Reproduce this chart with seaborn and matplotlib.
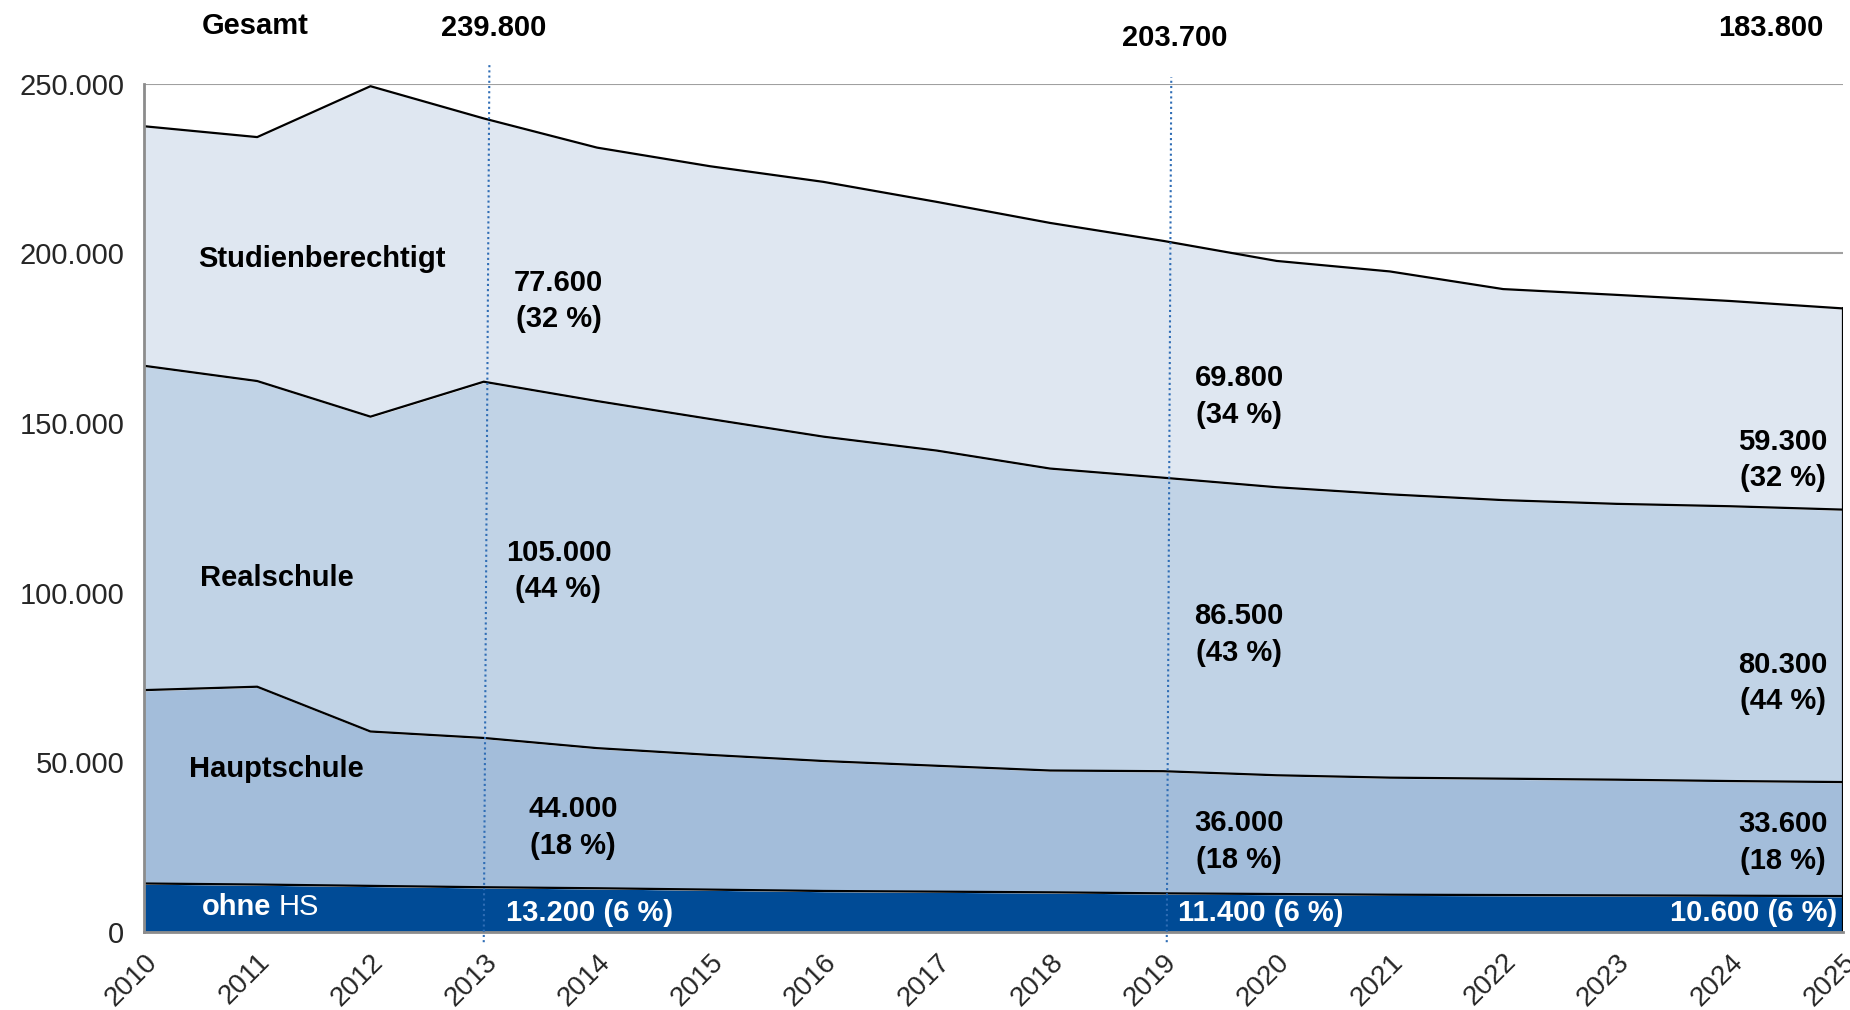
import numpy as np
import pandas as pd
import matplotlib
matplotlib.use("Agg")
import matplotlib.pyplot as plt
import seaborn as sns

years = list(range(2010, 2026))
ohne_hs = [14300, 14000, 13600, 13200, 12900, 12500, 12100, 11900,
           11700, 11400, 11200, 11000, 10900, 10800, 10700, 10600]
hauptschule = [57000, 58300, 45500, 44000, 41300, 39700, 38300, 37100,
               35900, 36000, 35000, 34500, 34300, 34100, 33800, 33600]
realschule = [95600, 90100, 92800, 105000, 102300, 99000, 95600, 92900,
              89000, 86500, 84900, 83500, 82100, 81300, 81000, 80300]
studien = [70600, 71900, 97400, 77600, 74700, 74500, 75100, 73300,
           72400, 69800, 66700, 65700, 62200, 61600, 60500, 59300]

marked_years = [2013, 2019, 2025]
gesamt_labels = ["239.800", "203.700", "183.800"]
studien_labels = ["77.600\n(32 %)", "69.800\n(34 %)", "59.300\n(32 %)"]
real_labels = ["105.000\n(44 %)", "86.500\n(43 %)", "80.300\n(44 %)"]
haupt_labels = ["44.000\n(18 %)", "36.000\n(18 %)", "33.600\n(18 %)"]
ohne_labels = ["13.200 (6 %)", "11.400 (6 %)", "10.600 (6 %)"]

df = pd.DataFrame({"Jahr": years, "ohne HS": ohne_hs, "Hauptschule": hauptschule,
                   "Realschule": realschule, "Studienberechtigt": studien})

sns.set_style("white")
plt.rcParams["font.family"] = ["Liberation Sans", "DejaVu Sans"]

fig = plt.figure(figsize=(18.5, 10.1), dpi=100)
ax = fig.add_axes([0.0778, 0.0772, 0.9184, 0.8398])

colors = ["#004B96", "#A3BDDA", "#C1D3E6", "#DFE7F1"]
cols = ["ohne HS", "Hauptschule", "Realschule", "Studienberechtigt"]
ax.stackplot(df["Jahr"], *[df[c] for c in cols], colors=colors, zorder=2)

# boundary lines
cum = df[cols].cumsum(axis=1)
for c in cols:
    sns.lineplot(x=df["Jahr"], y=cum[c], color="black", linewidth=1.6, ax=ax, zorder=3)
ax.plot([2025, 2025], [0, cum["Studienberechtigt"].iloc[-1]], color="black", lw=1.6, zorder=3)

ax.set_xlim(2010, 2025)
ax.set_ylim(0, 250000)
ax.set_xlabel("")
ax.set_ylabel("")

ax.set_yticks(np.arange(0, 250001, 50000))
ax.set_yticklabels([f"{v:,}".replace(",", ".") for v in range(0, 250001, 50000)], fontsize=21)
ax.set_xticks(years)
ax.set_xticklabels([str(y) for y in years], rotation=45, ha="right", rotation_mode="anchor", fontsize=20)
ax.tick_params(axis="both", direction="out", length=8, width=1.5, color="#8C8C8C", pad=6)
ax.tick_params(axis="x", pad=4)

ax.yaxis.grid(True, color="#A0A0A0", linewidth=1.5, zorder=0)
ax.set_axisbelow(True)
for s in ["top", "right"]:
    ax.spines[s].set_visible(False)
for s in ["left", "bottom"]:
    ax.spines[s].set_color("#8C8C8C")
    ax.spines[s].set_linewidth(2)
    ax.spines[s].set_zorder(4)

# dotted markers
ax.plot([2013.0, 2013.05], [-3000, 256000], ls=(0, (1, 1.5)), color="#2F6DB5", lw=1.5, clip_on=False, zorder=5)
ax.plot([2019.03, 2019.07], [-3000, 252000], ls=(0, (1, 1.5)), color="#2F6DB5", lw=1.5, clip_on=False, zorder=5)

fs = 21
bold = dict(fontsize=fs, fontweight="bold", color="black", clip_on=False)
ax.text(2010.98, 267000, "Gesamt", ha="center", va="center", **bold)
ax.text(2013.09, 266500, gesamt_labels[0], ha="center", va="center", **bold)
ax.text(2019.10, 263500, gesamt_labels[1], ha="center", va="center", **bold)
ax.text(2024.83, 266500, gesamt_labels[2], ha="right", va="center", **bold)

ax.text(2011.57, 198500, "Studienberechtigt", ha="center", va="center", **bold)
ax.text(2011.17, 104300, "Realschule", ha="center", va="center", **bold)
ax.text(2011.17, 48000, "Hauptschule", ha="center", va="center", **bold)
ax.text(2011.125, 7300, "ohne", ha="right", va="center", fontsize=fs, fontweight="bold", color="white")
ax.text(2011.19, 7300, "HS", ha="left", va="center", fontsize=fs, color="white")

lx = [2013.66, 2019.67, 2024.47]
sy = [186000, 157900, 139100]
ry = [106400, 87600, 73400]
hy = [30900, 26800, 26400]
for i in range(3):
    ax.text(lx[i], sy[i], studien_labels[i], ha="center", va="center", linespacing=1.4, **bold)
    ax.text(lx[i], ry[i], real_labels[i], ha="center", va="center", linespacing=1.4, **bold)
    ax.text(lx[i] + (0.13 if i == 0 else 0), hy[i], haupt_labels[i], ha="center", va="center", linespacing=1.4, **bold)
ax.text(2013.93, 5600, ohne_labels[0], ha="center", va="center", fontsize=fs, fontweight="bold", color="white")
ax.text(2019.86, 5600, ohne_labels[1], ha="center", va="center", fontsize=fs, fontweight="bold", color="white")
ax.text(2024.21, 5600, ohne_labels[2], ha="center", va="center", fontsize=fs, fontweight="bold", color="white")

fig.savefig("out.png", dpi=100)
